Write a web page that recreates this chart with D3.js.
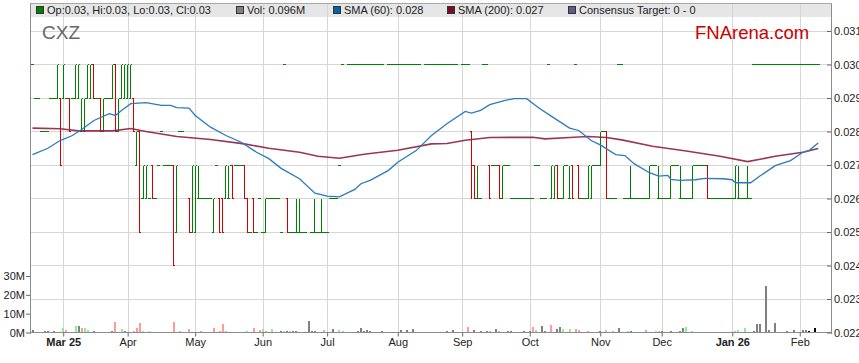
<!DOCTYPE html>
<html>
<head>
<meta charset="utf-8">
<script src="https://d3js.org/d3.v7.min.js"></script>
<style>
  html, body { margin: 0; padding: 0; background: #fff; }
  svg { display: block; font-family: "Liberation Sans", Arial, sans-serif; }
</style>
</head>
<body>
<div id="chart"></div>
<script>
// CXZ daily bars, one slot per weekday starting Mon 17 Feb 2025.
// Prices are in tenths of a cent (30 = $0.030); null = no bar that day.
const opens = [
  30,29,29,28,28,28,29,29,29,29,  29,29,29,29,29,29,28,28,29,29,
  30,29,29,28,29,29,29,30,28,29,  29,29,29,29,27,28,26,26,26,27,
  26,27,28,27,27,27,27,25,28,28,  null,26,25,25,26,26,26,26,26,25,
  27,26,26,26,26,27,27,27,27,27,  26,25,26,25,26,25,25,26,26,26,
  26,25,30,26,25,25,25,25,25,25,  null,25,25,25,25,25,25,26,26,26,
  27,30,null,30,30,30,30,30,30,30,  30,30,30,30,30,null,30,30,30,30,
  30,30,30,30,30,30,30,null,30,30,  30,30,30,30,30,30,30,30,30,null,
  30,30,30,28,27,26,26,30,30,27,  27,27,27,26,27,27,26,26,26,26,
  26,26,26,26,27,27,26,26,30,26,  26,27,26,26,27,26,27,30,27,26,
  26,26,26,27,27,27,28,28,26,26,  26,30,30,26,26,26,26,26,26,26,
  26,26,27,27,26,26,26,26,26,27,  27,26,26,26,26,26,27,27,27,27,
  27,26,26,26,26,26,26,26,26,26,  26,26,26,26,26,30,30,30,30,30,
  30,30,30,30,30,30,30,30,30,30,  30,30,30,30,30,30,30
];
const highs = [
  30,29,29,28,28,28,29,29,30,29,  30,29,29,29,30,30,29,29,30,30,
  30,29,29,29,29,29,30,30,29,30,  30,30,30,29,28,28,27,27,26,27,
  26,27,28,27,27,27,27,27,28,28,  null,26,27,27,27,26,26,26,26,26,
  27,26,26,27,27,27,27,27,27,27,  26,25,26,25,26,25,26,26,26,26,
  26,25,30,26,25,25,26,26,25,25,  null,25,26,25,26,25,25,26,26,26,
  27,30,null,30,30,30,30,30,30,30,  30,30,30,30,30,null,30,30,30,30,
  30,30,30,30,30,30,30,null,30,30,  30,30,30,30,30,30,30,30,30,null,
  30,30,30,28,27,27,26,30,30,27,  27,27,27,27,27,27,26,26,26,26,
  26,26,26,26,27,27,26,26,30,27,  27,27,26,27,27,27,27,30,27,26,
  26,27,27,27,27,28,28,28,26,26,  26,30,30,26,26,27,26,26,26,26,
  26,27,27,27,27,26,26,26,27,27,  27,27,26,26,26,27,27,27,27,27,
  27,26,26,26,26,26,26,26,26,27,  27,26,26,27,26,30,30,30,30,30,
  30,30,30,30,30,30,30,30,30,30,  30,30,30,30,30,30,30
];
const lows = [
  30,29,29,28,28,28,29,29,29,27,  29,29,28,29,29,29,28,28,29,29,
  29,29,28,28,29,29,29,28,28,29,  29,29,29,28,27,25,26,26,26,26,
  26,27,28,27,27,27,24,25,28,28,  null,25,25,25,26,26,26,26,26,25,
  27,25,25,26,26,26,27,27,27,26,  25,25,25,25,26,25,25,26,26,26,
  26,25,30,25,25,25,25,25,25,25,  null,25,25,25,25,25,25,26,26,26,
  27,30,null,30,30,30,30,30,30,30,  30,30,30,30,30,null,30,30,30,30,
  30,30,30,30,30,30,30,null,30,30,  30,30,30,30,30,30,30,30,30,null,
  30,30,30,26,26,26,26,30,30,26,  27,27,26,26,27,27,26,26,26,26,
  26,26,26,26,27,27,26,26,30,26,  26,26,26,26,27,26,26,30,26,26,
  26,26,26,27,27,27,28,26,26,26,  26,30,30,26,26,26,26,26,26,26,
  26,26,27,27,26,26,26,26,26,27,  27,26,26,26,26,26,27,27,27,27,
  26,26,26,26,26,26,26,26,26,26,  26,26,26,26,26,30,30,30,30,30,
  30,30,30,30,30,30,30,30,30,30,  30,30,30,30,30,30,30
];
const closes = [
  30,29,29,28,28,28,29,29,30,27,  30,29,28,29,30,30,29,29,30,30,
  29,29,28,29,29,29,30,28,29,30,  30,30,30,28,28,25,27,27,26,26,
  26,27,28,27,27,27,24,27,28,28,  null,25,27,27,26,26,26,26,26,26,
  27,25,25,27,26,26,27,27,27,26,  25,25,25,25,26,25,26,26,26,26,
  26,25,30,25,25,25,25,25,25,25,  null,25,25,25,25,25,25,26,26,26,
  27,30,null,30,30,30,30,30,30,30,  30,30,30,30,30,null,30,30,30,30,
  30,30,30,30,30,30,30,null,30,30,  30,30,30,30,30,30,30,30,30,null,
  30,30,30,27,26,26,26,30,30,26,  27,27,26,27,27,27,26,26,26,26,
  26,26,26,26,27,27,26,26,30,27,  27,26,26,27,27,26,26,30,26,26,
  26,27,27,27,27,28,28,26,26,26,  26,30,30,26,26,26,26,26,26,26,
  26,27,27,27,26,26,26,26,27,27,  27,26,26,26,26,27,27,27,27,27,
  26,26,26,26,26,26,26,26,26,27,  26,26,26,26,26,30,30,30,30,30,
  30,30,30,30,30,30,30,30,30,30,  30,30,30,30,30,30,30
];

// volume in millions; tone: u = up day, d = down day, n = unchanged
const volDays = [0,4,5,7,10,11,14,15,16,17,18,20,26,27,29,30,33,34,35,36,38,46,48,51,55,59,61,62,63,
  70,72,74,75,76,78,81,82,83,84,85,86,90,91,92,95,98,100,101,106,107,108,109,110,114,120,122,124,
  135,137,142,144,146,148,149,150,151,152,155,156,160,162,163,164,166,167,169,171,172,173,175,177,178,
  181,185,187,189,191,194,195,200,203,204,205,208,211,212,213,215,229,230,232,235,236,237,239,240,242,
  246,248,251,252,253,255];
const volumes = [1.2,0.6,0.6,0.6,2.5,1.4,3.3,3.3,2.3,2.3,1.4,0.6,0.6,5.4,1.8,0.6,0.6,2.3,4.9,0.6,0.6,5.4,0.6,1.8,0.6,2.3,0.6,4.4,0.6,
  0.6,2.3,1.4,1.8,0.6,1.8,0.6,0.6,1.0,1.0,1.0,0.6,6.0,0.6,1.0,1.2,1.8,1.2,0.6,0.6,2.3,0.9,1.2,0.6,0.6,1.2,1.2,1.8,
  0.6,1.2,2.8,1.4,0.6,0.6,0.6,0.5,1.8,0.6,0.6,0.6,0.6,0.6,2.8,1.4,3.3,0.6,3.9,1.8,2.8,1.8,1.8,1.8,1.2,
  0.6,0.6,1.2,0.6,2.3,0.6,0.6,1.2,0.6,1.0,0.6,0.6,0.6,2.3,2.8,0.6,0.6,1.2,2.3,0.6,4.4,4.4,24.9,1.2,4.9,
  0.6,1.2,1.2,1.2,0.6,2.3];
const volTones = "nnnnudunduunndunddduududdddddu" +
  "ddudunununnnnndnuunnnnnnnnn" +
  "nndnnndundnnnndunndnnuuddd" +
  "nudnunduunnnnuuduunnnnnnnnnn";

// moving averages: [slot, price in tenths of a cent]
const sma60Days = [0,5,9,13,16,20,25,27,29,32,37,42,45,47,51,53,58,63,68,73,77,81,87,92,96,100,105,107,110,116,
  119,125,130,135,141,143,146,149,154,157,161,165,169,175,178,182,185,190,193,196,201,204,207,208,211,216,219,
  225,228,229,234,237,242,247,251,253,256];
const sma60 = [27.31,27.50,27.73,27.88,28.06,28.33,28.53,28.48,28.63,28.83,28.86,28.78,28.78,28.71,28.70,28.48,
  28.13,27.88,27.68,27.38,27.19,26.90,26.59,26.16,26.07,26.05,26.27,26.44,26.54,26.84,27.08,27.43,27.88,28.23,
  28.60,28.55,28.63,28.80,28.93,28.98,28.98,28.70,28.46,28.10,28.03,27.73,27.60,27.31,27.28,27.04,26.77,26.67,
  26.69,26.57,26.54,26.56,26.60,26.59,26.56,26.47,26.47,26.67,26.98,27.13,27.38,27.43,27.66];
const sma200Days = [0,9,15,26,32,37,47,58,69,77,87,93,100,108,119,130,135,141,149,163,167,175,181,187,192,202,
  213,224,233,242,251,256];
const sma200 = [28.10,28.08,28.02,28.02,28.09,28.00,27.85,27.76,27.63,27.50,27.38,27.26,27.20,27.32,27.44,27.63,
  27.64,27.74,27.82,27.83,27.78,27.82,27.85,27.82,27.75,27.56,27.42,27.26,27.10,27.26,27.38,27.49];

const priceTicks = [22, 23, 24, 25, 26, 27, 28, 29, 30, 31];
const volumeTicks = [0, 10, 20, 30];
const monthLabels = ["Mar 25", "Apr", "May", "Jun", "Jul", "Aug", "Sep", "Oct", "Nov", "Dec", "Jan 26", "Feb"];

const legendItems = ["Op:0.03, Hi:0.03, Lo:0.03, Cl:0.03", "Vol: 0.096M", "SMA (60): 0.028",
  "SMA (200): 0.027", "Consensus Target: 0 - 0"];
const legendColors = ["#008000", "#808080", "#0064a8", "#7d0a2a", "#5c5c8e"];
const legendX = [36, 236, 333, 447, 568];

// weekday calendar for the month ticks
const slots = 261;
const dates = [];
for (let d = new Date(2025, 1, 17); dates.length < slots; d.setDate(d.getDate() + 1)) {
  if (d.getDay() !== 0 && d.getDay() !== 6) dates.push(new Date(d));
}
const monthStarts = d3.range(1, slots).filter(i => dates[i].getMonth() !== dates[i - 1].getMonth());

const width = 859, height = 363;
const plot = { left: 31, right: 832, top: 3, bottom: 333 };

const x = d3.scaleLinear().domain([-0.5, slots - 0.5]).range([plot.left, plot.right]);
const y = d3.scaleLinear().domain([22, 31]).range([332.5, 31]);
const yVol = d3.scaleLinear().domain([0, 30]).range([332.5, 276]);
const crispY = v => Math.round(y(v) - 0.5) + 0.5;

const svg = d3.select("#chart").append("svg")
  .attr("width", width)
  .attr("height", height);

// legend band
svg.append("rect")
  .attr("x", plot.left).attr("y", plot.top)
  .attr("width", plot.right - plot.left).attr("height", 14)
  .attr("fill", "#e6e6e6");

// grid
const gridG = svg.append("g").attr("shape-rendering", "crispEdges");
gridG.selectAll("line.v")
  .data(monthStarts)
  .join("line")
  .attr("class", "v")
  .attr("x1", d => Math.round(x(d)) + 0.5).attr("x2", d => Math.round(x(d)) + 0.5)
  .attr("y1", plot.top).attr("y2", plot.bottom)
  .attr("stroke", "#d6d6d6");
gridG.selectAll("line.h")
  .data(priceTicks.slice(1))
  .join("line")
  .attr("class", "h")
  .attr("x1", plot.left).attr("x2", plot.right)
  .attr("y1", d => crispY(d)).attr("y2", d => crispY(d))
  .attr("stroke", "#d6d6d6");

// watermark texts
svg.append("text")
  .attr("x", 42).attr("y", 39)
  .attr("font-size", "19px")
  .attr("fill", "#666")
  .text("CXZ");
svg.append("text")
  .attr("x", 695).attr("y", 39)
  .attr("font-size", "18.5px")
  .attr("fill", "#cc0000")
  .text("FNArena.com");

// volume bars
const toneColor = { u: "#8fef8f", d: "#ff9a9a", n: "#808080" };
svg.append("g")
  .attr("shape-rendering", "crispEdges")
  .selectAll("rect")
  .data(volDays.map((d, i) => ({ day: d, vol: volumes[i], tone: volTones[i] })))
  .join("rect")
  .attr("x", d => Math.round(x(d.day)) - 1)
  .attr("width", 2)
  .attr("y", d => yVol(d.vol))
  .attr("height", d => yVol(0) - yVol(d.vol))
  .attr("fill", d => toneColor[d.tone]);

// OHLC bars
const bars = d3.range(opens.length)
  .filter(i => opens[i] !== null)
  .map(i => ({ i, o: opens[i], h: highs[i], l: lows[i], c: closes[i] }));

svg.append("g")
  .attr("shape-rendering", "crispEdges")
  .attr("fill", "none")
  .selectAll("path")
  .data(bars)
  .join("path")
  .attr("stroke", d => d.c < d.o ? "#d40000" : "#008000")
  .attr("stroke-width", 1)
  .attr("d", d => {
    const xc = Math.floor(x(d.i)) + 0.5;
    const xl = x(d.i - 0.5), xr = x(d.i + 0.5);
    let p = `M${xl},${crispY(d.o)}H${xc}M${xc},${crispY(d.c)}H${xr}`;
    if (d.h > d.l) p += `M${xc},${crispY(d.h)}V${crispY(d.l)}`;
    return p;
  });

// moving averages
const line = d3.line().x(d => x(d[0])).y(d => y(d[1]));
svg.append("path")
  .datum(sma200Days.map((d, i) => [d, sma200[i]]))
  .attr("fill", "none")
  .attr("stroke", "#8e1f45")
  .attr("stroke-width", 1.6)
  .attr("stroke-opacity", 0.9)
  .attr("d", line);
svg.append("path")
  .datum(sma60Days.map((d, i) => [d, sma60[i]]))
  .attr("fill", "none")
  .attr("stroke", "#2b7bbd")
  .attr("stroke-width", 1.3)
  .attr("d", line);

// frame
const frameG = svg.append("g").attr("stroke", "#8c8c8c").attr("shape-rendering", "crispEdges");
frameG.append("line").attr("x1", 30.5).attr("x2", 30.5).attr("y1", plot.top).attr("y2", plot.bottom + 0.5);
frameG.append("line").attr("x1", 831.5).attr("x2", 831.5).attr("y1", plot.top).attr("y2", plot.bottom + 0.5);
frameG.append("line").attr("x1", 30.5).attr("x2", 831.5).attr("y1", 332.5).attr("y2", 332.5);
frameG.append("line").attr("x1", 30.5).attr("x2", 831.5).attr("y1", 3.5).attr("y2", 3.5).attr("stroke", "#a8a8a8");

// axes
function styleAxis(g) {
  g.select(".domain").remove();
  g.selectAll(".tick line").attr("stroke", "#666");
  g.selectAll(".tick text")
    .attr("font-family", "'Liberation Sans', Arial, sans-serif")
    .attr("font-size", "11px")
    .attr("fill", "#222");
}

svg.append("g")
  .attr("transform", `translate(0.5,${plot.bottom - 0.5})`)
  .call(d3.axisBottom(x).tickValues(monthStarts).tickFormat((d, i) => monthLabels[i])
    .tickSize(4).tickSizeOuter(0).tickPadding(2).offset(0))
  .call(styleAxis)
  .call(g => g.selectAll(".tick text").attr("font-weight", (d, i) => monthLabels[i].includes(" ") ? "bold" : "normal"));

// price ticks point into the plot; labels sit just right of the frame
svg.append("g")
  .attr("transform", `translate(831,0)`)
  .call(d3.axisRight(y).tickValues(priceTicks).tickFormat(d => (d / 1000).toFixed(3))
    .tickSizeInner(-4).tickSizeOuter(0).tickPadding(3))
  .call(styleAxis);

svg.append("g")
  .attr("transform", `translate(30,0)`)
  .call(d3.axisLeft(yVol).tickValues(volumeTicks).tickFormat(d => d + "M")
    .tickSize(4).tickSizeOuter(0).tickPadding(1))
  .call(styleAxis);

// legend
const legendG = svg.append("g");
legendItems.forEach((label, k) => {
  legendG.append("rect")
    .attr("x", legendX[k] + 0.5).attr("y", 6.5)
    .attr("width", 7).attr("height", 7)
    .attr("fill", legendColors[k])
    .attr("stroke", "#333");
  legendG.append("text")
    .attr("x", legendX[k] + 11).attr("y", 14)
    .attr("font-size", "11px")
    .attr("fill", "#222")
    .text(label);
});
</script>
</body>
</html>
